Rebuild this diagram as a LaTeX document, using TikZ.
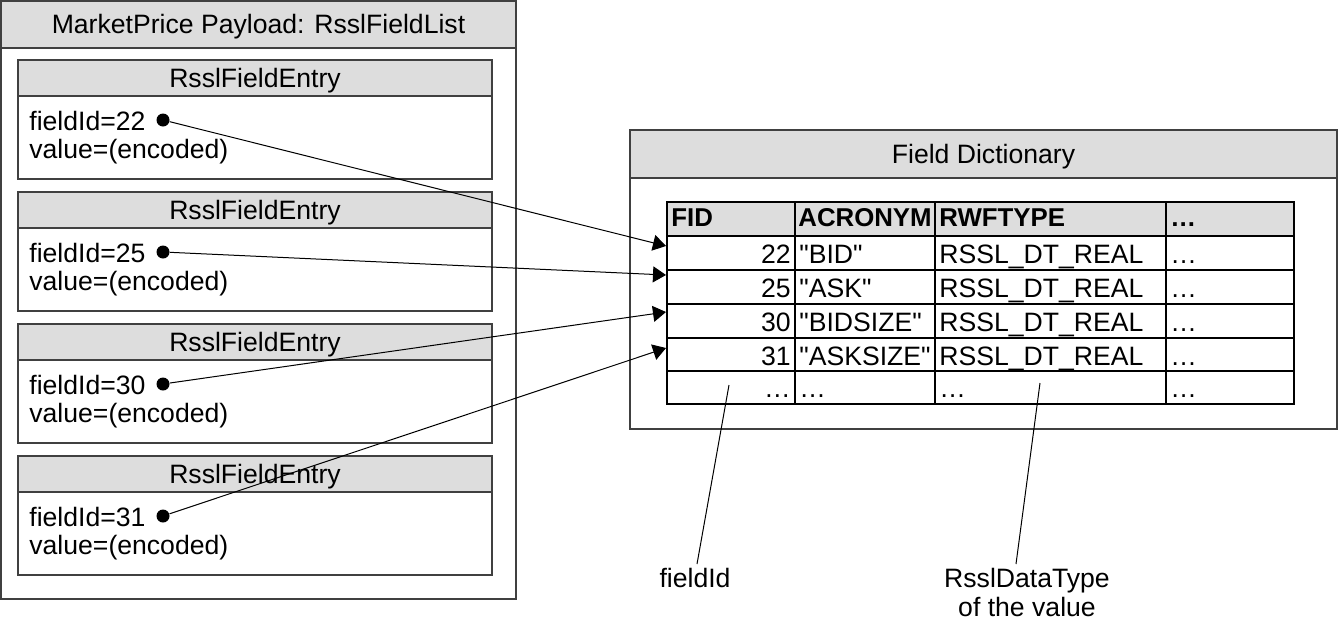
\documentclass[tikz,border=0pt]{standalone}
\usepackage{fontspec}
\setmainfont{Liberation Sans}
\newfontfamily\qfont{Liberation Sans}
\usetikzlibrary{arrows.meta}
\definecolor{hdrgray}{RGB}{221,221,221}
\definecolor{boxline}{RGB}{64,64,64}
\newcommand{\sq}{{\qfont\symbol{34}}}
\begin{document}
\begin{tikzpicture}[x=0.5pt,y=-0.5pt,
  box/.style={draw=boxline, line width=0.6pt},
  hdr/.style={fill=hdrgray, draw=boxline, line width=0.6pt},
  txt/.style={font=\fontsize{13.3}{16}\selectfont, inner sep=0pt},
  btxt/.style={font=\fontsize{12.9}{16}\selectfont\bfseries, inner sep=0pt},
  tbl/.style={draw=black, line width=1.1pt},
  dotnode/.style={circle, fill=black, minimum size=6.5pt, inner sep=0pt},
  ptr/.style={-{Triangle[length=6.5pt,width=8pt]}, line width=0.5pt},
  lead/.style={line width=0.5pt}]
\useasboundingbox (0,0) rectangle (1339,627);
\fill[white] (0,0) rectangle (1339,627);

% ---- left outer box
\draw[hdr] (1,1) rectangle (516,48);
\draw[box] (1,48) rectangle (516,599);
\node[txt, anchor=base] (title) at (258.5,33) {MarketPrice Payload: RsslFieldList};

% ---- field entries
\foreach \t/\id/\n in {60/22/1,192/25/2,324/30/3,456/31/4}{
  \draw[hdr] (18,\t) rectangle (492,\t+36);
  \draw[box] (18,\t+36) rectangle (492,\t+119);
  \node[txt, anchor=base] (eh\n) at (255,\t+27) {RsslFieldEntry};
  \node[txt, anchor=base west] (fid\n) at (29,\t+70) {fieldId=\id};
  \node[txt, anchor=base west] (val\n) at (29,\t+98) {value=(encoded)};
  \node[dotnode] (d\n) at (163,\t+60) {};
}

% ---- right box
\draw[hdr] (630,130) rectangle (1337,178);
\draw[box] (630,178) rectangle (1337,429);
\node[txt, anchor=base] (fdtitle) at (983.5,163) {Field Dictionary};

% ---- table
\fill[hdrgray] (667,202) rectangle (1294,236);
\draw[tbl] (667,202) rectangle (1294,404);
\foreach \y in {236,270,304,338,371}{ \draw[tbl] (667,\y) -- (1294,\y); }
\foreach \x in {795,935,1166}{ \draw[tbl] (\x,202) -- (\x,404); }

\node[btxt, anchor=base west] (hfid) at (671,226) {FID};
\node[btxt, anchor=base west] (hacr) at (798,226) {ACRONYM};
\node[btxt, anchor=base west] (hrwf) at (939,226) {RWFTYPE};
\node[btxt, anchor=base west] (hdots) at (1170,226) {\dots};

\foreach \b/\num/\acr/\n in {263/22/BID/1, 297/25/ASK/2, 331/30/BIDSIZE/3, 365/31/ASKSIZE/4}{
  \node[txt, anchor=base east] (rfid\n) at (791,\b) {\num};
  \node[txt, anchor=base west] (racr\n) at (799,\b) {\sq\acr\sq};
  \node[txt, anchor=base west] (rrwf\n) at (939,\b) {RSSL\_DT\_REAL};
  \node[txt, anchor=base west] (rdot\n) at (1170,\b) {\dots};
}
\node[txt, anchor=base east] (lfid) at (791,397) {\dots};
\node[txt, anchor=base west] (lacr) at (799,397) {\dots};
\node[txt, anchor=base west] (lrwf) at (939,397) {\dots};
\node[txt, anchor=base west] (ldot) at (1170,397) {\dots};

% ---- arrow targets
\coordinate (t1) at (666,246);
\coordinate (t2) at (666,275);
\coordinate (t3) at (666,312);
\coordinate (t4) at (666,348);
\draw[ptr] (d1) -- (t1);
\draw[ptr] (d2) -- (t2);
\draw[ptr] (d3) -- (t3);
\draw[ptr] (d4) -- (t4);

% ---- annotation labels
\node[txt, anchor=base] (lblfid) at (695,587) {fieldId};
\node[txt, anchor=base] (lbltype1) at (1027,587) {RsslDataType};
\node[txt, anchor=base] (lbltype2) at (1027,616) {of the value};
\coordinate (fa) at (729,385);
\coordinate (fb) at (697,564);
\coordinate (ta) at (1040,383);
\coordinate (tb) at (1016,564);
\draw[lead] (fa) -- (fb);
\draw[lead] (ta) -- (tb);
\end{tikzpicture}
\end{document}
